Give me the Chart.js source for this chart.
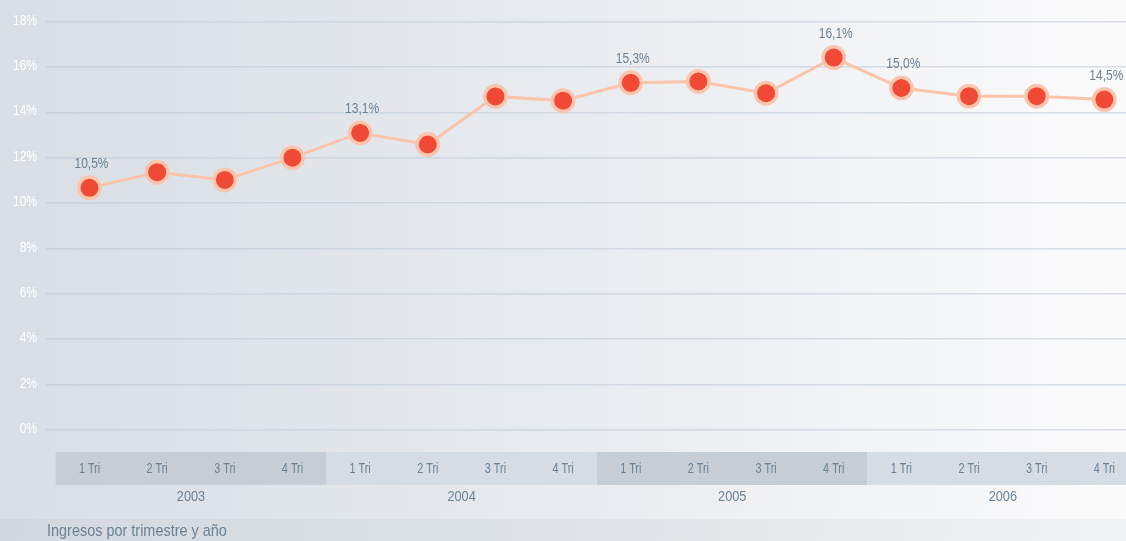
<!DOCTYPE html>
<html>
<head>
<meta charset="utf-8">
<script src="https://cdn.jsdelivr.net/npm/chart.js@4/dist/chart.umd.min.js"></script>
<style>
html,body{margin:0;padding:0;overflow:hidden;background:#e6eaee;}
#wrap{position:relative;width:1126px;height:541px;}
</style>
</head>
<body>
<div id="wrap"><canvas id="c" width="1126" height="541"></canvas></div>
<script>
const quarters = ["1 Tri","2 Tri","3 Tri","4 Tri","1 Tri","2 Tri","3 Tri","4 Tri","1 Tri","2 Tri","3 Tri","4 Tri","1 Tri","2 Tri","3 Tri","4 Tri"];
const years = ["2003","2004","2005","2006"];
const values = [10.67, 11.36, 11.02, 12.0, 13.09, 12.58, 14.70, 14.51, 15.30, 15.36, 14.84, 16.41, 15.07, 14.71, 14.71, 14.56];
const pointLabels = ["10,5%","","","","13,1%","","","","15,3%","","","16,1%","15,0%","","","14,5%"];
const yTicks = [0,2,4,6,8,10,12,14,16,18];
const footerText = "Ingresos por trimestre y año";

const FONT = "'Liberation Sans',Arial,sans-serif";
const TXT = "#6b8294";

function drawText(ctx, text, x, y, size, sx, align, color) {
  ctx.save();
  ctx.font = size + "px " + FONT;
  ctx.fillStyle = color;
  ctx.textAlign = align;
  ctx.textBaseline = 'middle';
  ctx.translate(x, y);
  ctx.scale(sx, 1);
  ctx.fillText(text, 0, 0);
  ctx.restore();
}

const bgPlugin = {
  id: 'bg',
  beforeDraw(chart) {
    const ctx = chart.ctx, W = chart.width, H = chart.height;
    ctx.save();
    let g = ctx.createLinearGradient(0,0,W,0);
    g.addColorStop(0,'#d8dee5');
    g.addColorStop(0.5,'#e8ebef');
    g.addColorStop(1,'#fbfbfc');
    ctx.fillStyle = g;
    ctx.fillRect(0,0,W,H);
    let g2 = ctx.createLinearGradient(0,0,W,0);
    g2.addColorStop(0,'#d2d8de');
    g2.addColorStop(0.5,'#dfe3e7');
    g2.addColorStop(1,'#f1f3f4');
    ctx.fillStyle = g2;
    ctx.fillRect(0,519,W,H-519);
    ctx.restore();
    drawText(ctx, footerText, 47, 531, 17, 0.85, 'left', TXT);
  },
  afterDraw(chart) {
    const ctx = chart.ctx, xs = chart.scales.x, ys = chart.scales.y;
    ctx.save();
    const top = 452, bot = 485;
    years.forEach((yr, k) => {
      const x0 = xs.getPixelForValue(k*4 - 0.5);
      const x1 = xs.getPixelForValue(k*4 + 3.5);
      ctx.fillStyle = (k % 2 === 0) ? '#c6cdd4' : '#d6dce3';
      ctx.fillRect(x0, top, x1 - x0, bot - top);
      drawText(ctx, yr, (x0 + x1) / 2, 497, 15, 0.85, 'center', TXT);
    });
    ctx.restore();
    quarters.forEach((q, i) => {
      drawText(ctx, q, xs.getPixelForValue(i), 469, 15, 0.72, 'center', TXT);
    });
    yTicks.forEach(v => {
      drawText(ctx, v + '%', 37, ys.getPixelForValue(v) - 1, 15, 0.8, 'right', '#ffffff');
    });
  },
  afterDatasetsDraw(chart) {
    const ctx = chart.ctx;
    const meta = chart.getDatasetMeta(0);
    meta.data.forEach((pt, i) => {
      if (pointLabels[i]) drawText(ctx, pointLabels[i], pt.x + 2, pt.y - 24, 15, 0.8, 'center', TXT);
    });
  }
};

new Chart(document.getElementById('c'), {
  type: 'line',
  data: {
    datasets: [{
      data: values.map((v, i) => ({x: i, y: v})),
      borderColor: '#fbc4aa',
      borderWidth: 3,
      backgroundColor: '#f04a36',
      pointBackgroundColor: '#f04a36',
      pointBorderColor: '#fcc6ae',
      pointBorderWidth: 3.5,
      pointRadius: 10.75,
      pointHoverRadius: 10.75,
      tension: 0,
      clip: false
    }]
  },
  options: {
    responsive: false,
    animation: false,
    events: [],
    layout: { autoPadding: false, padding: { top: 21.5, bottom: 111, left: 0, right: 0 } },
    plugins: { legend: { display: false }, tooltip: { enabled: false } },
    scales: {
      x: {
        type: 'linear',
        min: -0.643,
        max: 15.32,
        display: false
      },
      y: {
        min: 0,
        max: 18,
        afterBuildTicks(axis) { axis.ticks = yTicks.map(v => ({value: v})); },
        afterFit(axis) { axis.width = 46; },
        border: { display: false },
        grid: { color: 'rgba(188,198,212,0.55)', lineWidth: 1.5, drawTicks: false },
        ticks: {
          color: 'rgba(0,0,0,0)',
          padding: 9,
          font: { family: FONT, size: 13 },
          callback: v => v + '%'
        }
      }
    }
  },
  plugins: [bgPlugin]
});
</script>
</body>
</html>
